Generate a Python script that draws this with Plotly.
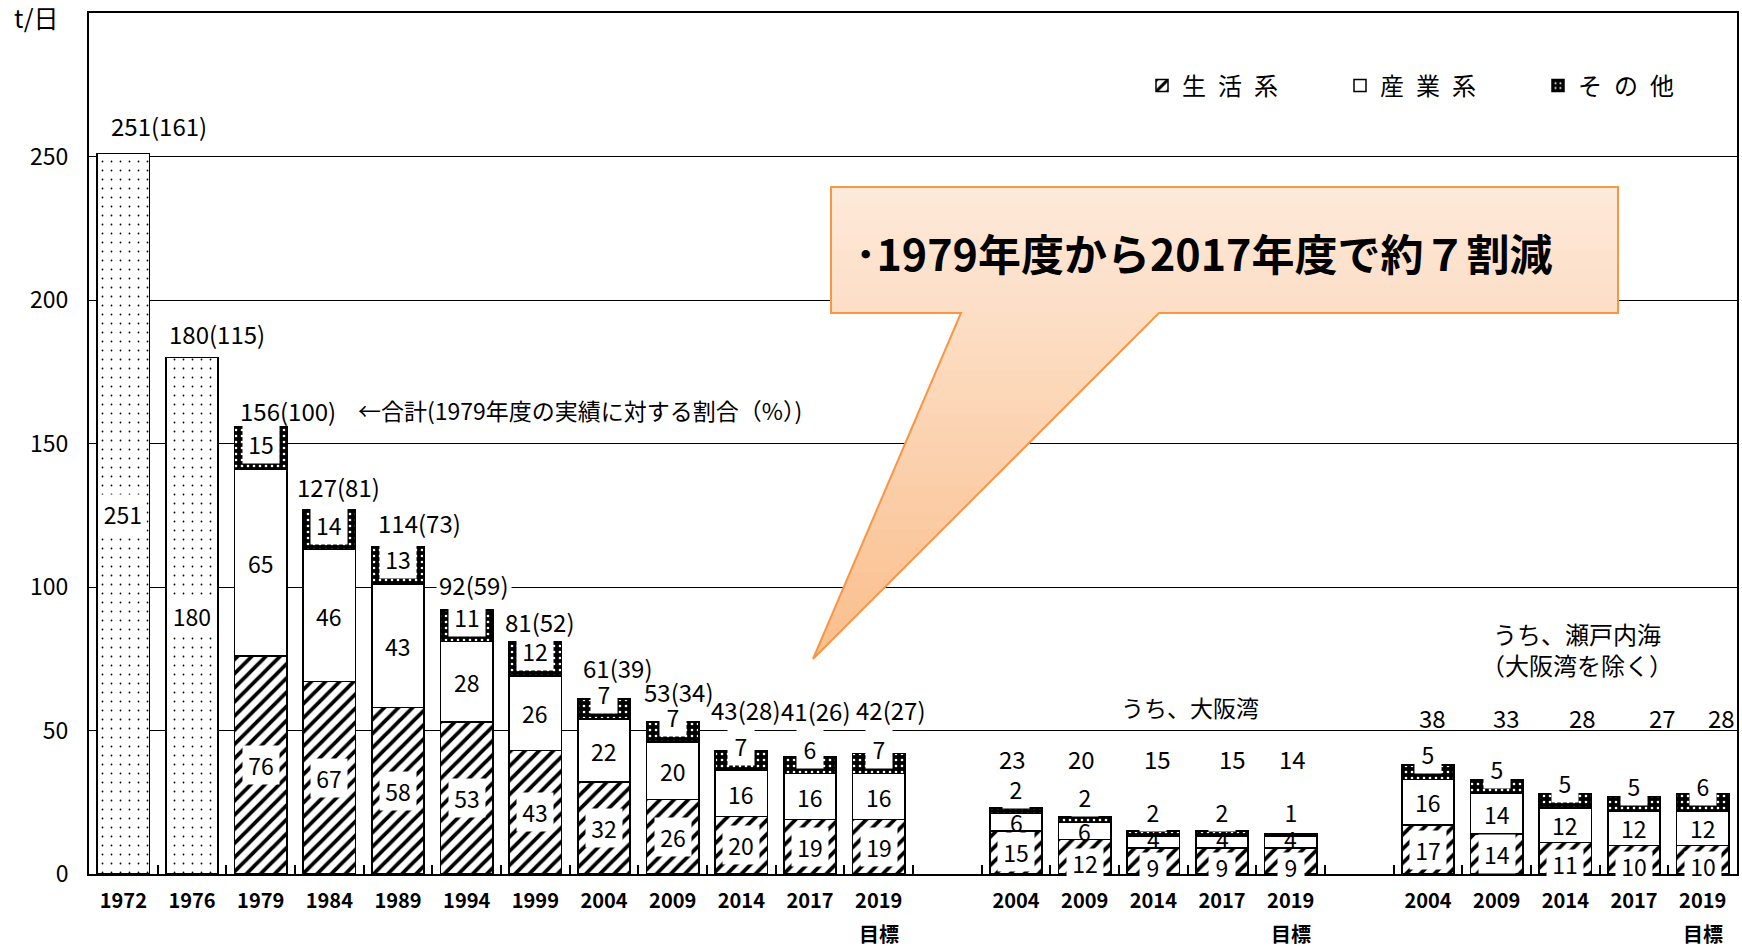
import plotly.graph_objects as go

# ---------------- data ----------------
main_years = ["1972", "1976", "1979", "1984", "1989", "1994", "1999", "2004", "2009", "2014", "2017", "2019目標"]
main_total = [251, 180, 156, 127, 114, 92, 81, 61, 53, 43, 41, 42]
main_pct = [161, 115, 100, 81, 73, 59, 52, 39, 34, 28, 26, 27]
main_life = [None, None, 76, 67, 58, 53, 43, 32, 26, 20, 19, 19]
main_ind = [None, None, 65, 46, 43, 28, 26, 22, 20, 16, 16, 16]
main_other = [None, None, 15, 14, 13, 11, 12, 7, 7, 7, 6, 7]

osaka_years = ["2004", "2009", "2014", "2017", "2019目標"]
osaka_life = [15, 12, 9, 9, 9]
osaka_ind = [6, 6, 4, 4, 4]
osaka_other = [2, 2, 2, 2, 1]
osaka_total = [23, 20, 15, 15, 14]

seto_years = ["2004", "2009", "2014", "2017", "2019目標"]
seto_life = [17, 14, 11, 10, 10]
seto_ind = [16, 14, 12, 12, 12]
seto_other = [5, 5, 5, 5, 6]
seto_total = [38, 33, 28, 27, 28]

y_ticks = [0, 50, 100, 150, 200, 250]
legend_names = ["生\u2002活\u2002系", "産\u2002業\u2002系", "そ\u2002の\u2002他"]

# ---------------- layout helpers ----------------
FONT = "Noto Sans CJK JP"
W, H = 1742, 950
L, R, T, B = 89, 1737, 13, 874
YMAX = 300
PPU = (B - T) / YMAX  # pixels per unit


def px(x):
    return (x - L) / (R - L)


def py(y):
    return (B - y) / (B - T)


main_keys = ["M" + y for y in main_years]
osaka_keys = ["O" + y for y in osaka_years]
seto_keys = ["S" + y for y in seto_years]
all_keys = main_keys + ["gap1"] + osaka_keys + ["gap2"] + seto_keys
all_years = main_years + [""] + osaka_years + [""] + seto_years


def first_line(y):
    return y.replace("目標", "")


tick_text = [first_line(y) for y in all_years]

sx = main_keys[2:] + osaka_keys + seto_keys
s_life = main_life[2:] + osaka_life + seto_life
s_ind = main_ind[2:] + osaka_ind + seto_ind
s_other = main_other[2:] + osaka_other + seto_other

fig = go.Figure()

fig.add_trace(go.Bar(
    x=main_keys[:2], y=main_total[:2], showlegend=False, name="合計",
    marker=dict(color="white", line=dict(color="black", width=1.5),
                pattern=dict(shape=".", fgcolor="black", bgcolor="white", size=9, solidity=0.03, fillmode="replace")),
    hoverinfo="skip"))
fig.add_trace(go.Bar(
    x=sx, y=s_life, name=legend_names[0], legend="legend",
    marker=dict(color="white", line=dict(color="black", width=1.5),
                pattern=dict(shape="/", fgcolor="black", bgcolor="white", size=10, solidity=0.38, fillmode="replace")),
    hoverinfo="skip"))
fig.add_trace(go.Bar(
    x=sx, y=s_ind, name=legend_names[1], legend="legend2",
    marker=dict(color="white", line=dict(color="black", width=1.5)),
    hoverinfo="skip"))
fig.add_trace(go.Bar(
    x=sx, y=s_other, name=legend_names[2], legend="legend3",
    marker=dict(color="black", line=dict(color="black", width=1.5),
                pattern=dict(shape=".", fgcolor="white", bgcolor="black", size=6, solidity=0.15, fillmode="replace")),
    hoverinfo="skip"))

annotations = []
LBL = 23
TOT = 24


def box_label(key, y, text, yshift=0, bg=True, h=32):
    n = len(str(text))
    d = dict(x=key, y=y, xref="x", yref="y", text=str(text), showarrow=False,
             font=dict(family=FONT, size=LBL, color="black"), yshift=yshift,
             xanchor="center", yanchor="middle")
    if bg:
        d.update(bgcolor="white", width=10 + 10 * n, height=h, borderpad=3)
    annotations.append(d)


for k, t in zip(main_keys[:2], main_total[:2]):
    box_label(k, t / 2, t)

for k, a, b, c in zip(sx, s_life, s_ind, s_other):
    small = a * PPU < 40
    box_label(k, a / 2, a, yshift=-6 if small else 0, h=22 if small else 32)
    box_label(k, a + b / 2, b, bg=False, yshift=3 if b * PPU < 15 else 0)
    box_label(k, a + b, c, yshift=25)

main_dy = [28, 24, 16, 23, 24, 25, 20, 31, 30, 41, 46, 44]
main_dx = [36, 25, 27, 9, 21, 7, 5, 14, 6, 5, 6, 12]
for k, t, p, dy, dx in zip(main_keys, main_total, main_pct, main_dy, main_dx):
    centre_px = t * PPU + dy
    on_grid = any(abs(centre_px - g * PPU) < 14 for g in y_ticks[1:])
    d = dict(x=k, y=t, xref="x", yref="y", text=f"{t}({p})", showarrow=False,
             font=dict(family=FONT, size=TOT, color="black"), yshift=dy, xshift=dx,
             xanchor="center", yanchor="middle")
    if on_grid:
        d.update(bgcolor="white", borderpad=2)
    annotations.append(d)

osaka_row, seto_row = 40.4, 54.7
osaka_dx = [-4, -3, 4, 10, 2]
seto_dx = [4, 10, 17, 28, 19]
for k, t, dx in zip(osaka_keys, osaka_total, osaka_dx):
    annotations.append(dict(x=k, y=osaka_row, xref="x", yref="y", text=str(t), showarrow=False, xshift=dx,
                            font=dict(family=FONT, size=TOT, color="black"), yanchor="middle"))
for k, t, dx in zip(seto_keys, seto_total, seto_dx):
    annotations.append(dict(x=k, y=seto_row, xref="x", yref="y", text=str(t), showarrow=False, xshift=dx,
                            font=dict(family=FONT, size=TOT, color="black"), yanchor="middle"))

# second line of the target-year tick labels
for k, y in zip(all_keys, all_years):
    if "目標" in y:
        annotations.append(dict(x=k, y=py(933), xref="x", yref="paper", text="目標", showarrow=False,
                                font=dict(family=FONT, size=20, color="black", weight="bold"),
                                xanchor="center", yanchor="middle"))

annotations += [
    dict(x=px(36), y=py(17), xref="paper", yref="paper", text="t/日", showarrow=False,
         font=dict(family=FONT, size=25, color="black"), xanchor="center", yanchor="middle"),
    dict(x=px(356), y=py(410), xref="paper", yref="paper", text="←合計(1979年度の実績に対する割合（%）)",
         showarrow=False, font=dict(family=FONT, size=23, color="black"), xanchor="left", yanchor="middle"),
    dict(x=px(1190), y=py(707), xref="paper", yref="paper", text="うち、大阪湾", showarrow=False,
         font=dict(family=FONT, size=23, color="black"), xanchor="center", yanchor="middle"),
    dict(x=px(1577), y=py(649), xref="paper", yref="paper", text="うち、瀬戸内海<br>（大阪湾を除く）",
         showarrow=False, font=dict(family=FONT, size=24, color="black"), xanchor="center", yanchor="middle"),
    dict(x=px(853), y=py(252), xref="paper", yref="paper", text="<b>･1979年度から2017年度で約７割減</b>",
         showarrow=False, font=dict(family=FONT, size=43, color="black"), xanchor="left", yanchor="middle"),
]

# ---------------- callout (gradient via bands) ----------------
RX0, RX1, RY0, RY1 = 831, 1618, 187, 313
TL, TR, TIP = (961, 313), (1159, 313), (813, 659)
c_top = (253, 234, 218)
c_bot = (250, 190, 140)


def col(y):
    t = (y - RY0) / (TIP[1] - RY0)
    c = [round(a + (b - a) * t) for a, b in zip(c_top, c_bot)]
    return f"rgb({c[0]},{c[1]},{c[2]})"


def path(pts):
    return "M " + " L ".join(f"{px(x):.5f},{py(y):.5f}" for x, y in pts) + " Z"


shapes = []
nb = 8
for i in range(nb):
    y0 = RY0 + (RY1 - RY0) * i / nb
    y1 = min(RY0 + (RY1 - RY0) * (i + 1) / nb + 0.8, RY1)
    shapes.append(dict(type="path", xref="paper", yref="paper", layer="above",
                       path=path([(RX0, y0), (RX1, y0), (RX1, y1), (RX0, y1)]),
                       fillcolor=col((y0 + y1) / 2), line=dict(width=0)))


def xl(y):
    return TL[0] + (TIP[0] - TL[0]) * (y - TL[1]) / (TIP[1] - TL[1])


def xr(y):
    return TR[0] + (TIP[0] - TR[0]) * (y - TR[1]) / (TIP[1] - TR[1])


nt = 24
for i in range(nt):
    y0 = TL[1] + (TIP[1] - TL[1]) * i / nt - 0.5
    y1 = min(TL[1] + (TIP[1] - TL[1]) * (i + 1) / nt + 0.8, TIP[1])
    shapes.append(dict(type="path", xref="paper", yref="paper", layer="above",
                       path=path([(xl(y0), y0), (xr(y0), y0), (xr(y1), y1), (xl(y1), y1)]),
                       fillcolor=col((y0 + y1) / 2), line=dict(width=0)))

shapes.append(dict(type="path", xref="paper", yref="paper", layer="above",
                   path=path([(RX0, RY0), (RX1, RY0), (RX1, RY1), TR, TIP, TL, (RX0, RY1)]),
                   fillcolor="rgba(0,0,0,0)", line=dict(color="#F79646", width=2)))


def leg(xpix):
    return dict(orientation="h", x=px(xpix), xanchor="left", y=py(86), yanchor="middle",
                font=dict(family=FONT, size=24, color="black"), bgcolor="rgba(0,0,0,0)", borderwidth=0)


fig.update_layout(
    width=W, height=H,
    margin=dict(l=L, r=W - R, t=T, b=H - B, pad=0, autoexpand=False),
    barmode="stack", bargap=0.24,
    plot_bgcolor="white", paper_bgcolor="white",
    font=dict(family=FONT, color="black"),
    annotations=annotations, shapes=shapes,
    legend=leg(1142), legend2=leg(1340), legend3=leg(1538),
    xaxis=dict(type="category", categoryorder="array", categoryarray=all_keys,
               tickmode="array", tickvals=all_keys, ticktext=tick_text,
               range=[-0.5, len(all_keys) - 0.5], tickson="boundaries",
               ticks="inside", ticklen=9, tickwidth=1.5, tickcolor="black",
               showline=True, linecolor="black", linewidth=2, mirror=True, showgrid=False,
               tickfont=dict(family=FONT, size=20, color="black", weight="bold"),
               ticklabelstandoff=8),
    yaxis=dict(range=[0, YMAX], tickmode="array", tickvals=y_ticks, ticks="",
               showline=True, linecolor="black", linewidth=2, mirror=True,
               showgrid=True, gridcolor="black", gridwidth=1, zeroline=False,
               tickfont=dict(family=FONT, size=23, color="black"), ticklabelstandoff=14),
)

fig.write_html("out.html", config={"displayModeBar": False},
               post_script="document.body.style.margin='0';document.body.style.padding='0';")
